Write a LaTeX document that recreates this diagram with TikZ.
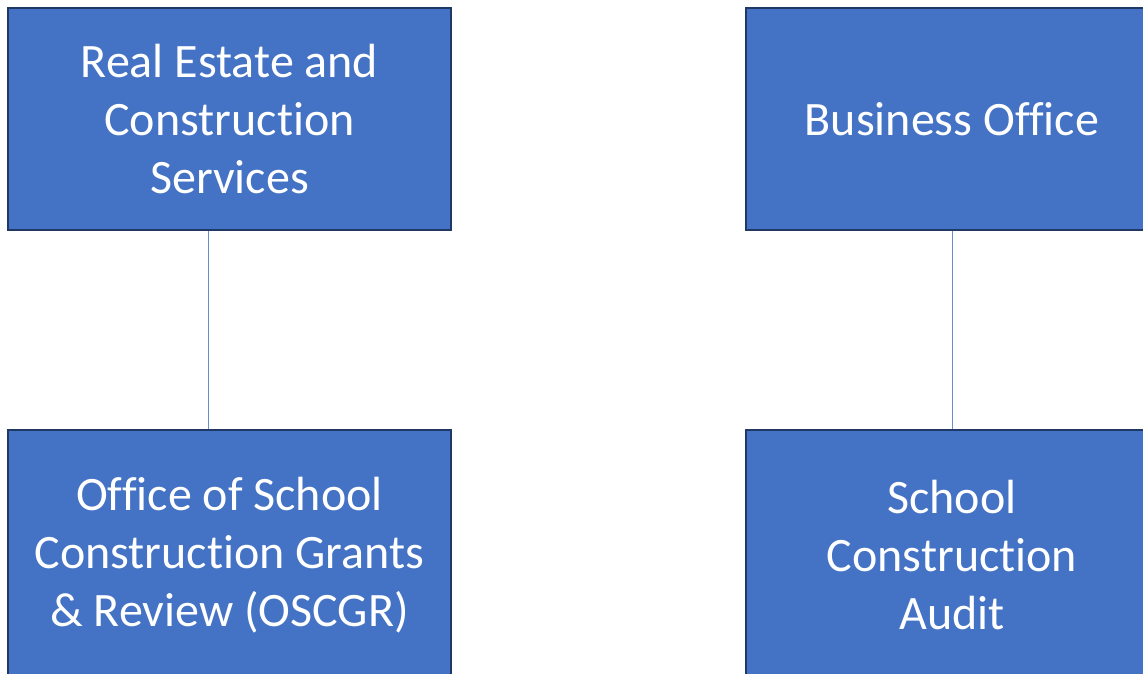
\documentclass[tikz,border=0pt]{standalone}
\usepackage{fontspec}
\setmainfont[Ligatures=NoCommon]{Carlito}
\usetikzlibrary{positioning}
\definecolor{boxblue}{HTML}{4472C4}
\definecolor{boxedge}{HTML}{203864}
\tikzset{main node/.style={rectangle,fill=boxblue,draw=boxedge,line width=2pt,text=white,align=center,inner sep=0pt,font=\fontsize{48}{58}\selectfont},
            link/.style={draw=boxblue!80,line width=1pt},
            }

\begin{document}
\begin{tikzpicture}[x=1pt,y=-1pt]
    \useasboundingbox (0,0) rectangle (1143,673);

    \node[main node,minimum width=443pt,minimum height=222pt] (1) at (229.5,119) {Real Estate and\\Construction\\Services};
    \node[main node,minimum width=412pt,minimum height=222pt] (2) at (952,119) {Business Office};
    \node[main node,minimum width=443pt,minimum height=250pt] (3) at (229.5,555) {Office of School\\Construction Grants\\\& Review (OSCGR)};
    \node[main node,minimum width=412pt,minimum height=250pt] (4) at (952,555) {School\\Construction\\Audit};

    \path[link]
    ([xshift=-21.5pt]1.south) edge ([xshift=-21.5pt]3.north)
    (2.south) edge (4.north);
\end{tikzpicture}
\end{document}
